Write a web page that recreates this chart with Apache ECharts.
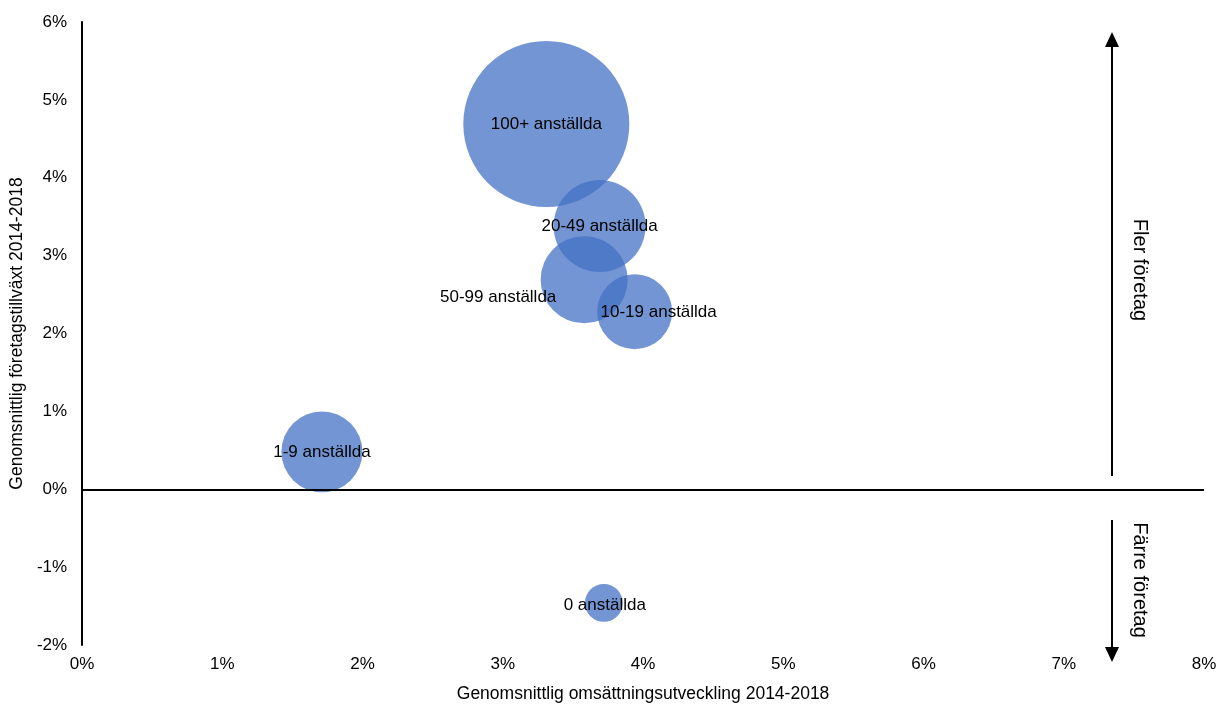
<!DOCTYPE html>
<html>
<head>
<meta charset="utf-8">
<script src="https://cdn.jsdelivr.net/npm/echarts@6/dist/echarts.min.js"></script>
<style>
html,body{margin:0;padding:0;background:#fff;}
#chart{width:1220px;height:708px;}
</style>
</head>
<body>
<div id="chart"></div>
<script>
// Data
const names = ['100+ anställda', '20-49 anställda', '50-99 anställda', '10-19 anställda', '1-9 anställda', '0 anställda'];
const turnoverGrowth = [3.31, 3.69, 3.58, 3.94, 1.71, 3.72];   // x, %
const firmGrowth = [4.69, 3.38, 2.69, 2.28, 0.48, -1.46];      // y, %
const bubbleSize = [100, 30.7, 27.5, 20.4, 23.8, 5.2];         // relative bubble area
const xTicks = { min: 0, max: 8, interval: 1 };
const yTicks = { min: -2, max: 6, interval: 1 };
const xTitle = 'Genomsnittlig omsättningsutveckling 2014-2018';
const yTitle = 'Genomsnittlig företagstillväxt 2014-2018';
const upText = 'Fler företag';
const downText = 'Färre företag';

const labelOffsets = {
  '50-99 anställda': [-86, 18],
  '10-19 anställda': [24, 1],
  '0 anställda': [1, 2]
};

const FONT = "'Liberation Sans', Arial, sans-serif";

const data = names.map((n, i) => ({
  name: n,
  value: [turnoverGrowth[i], firmGrowth[i], bubbleSize[i]],
  label: { offset: labelOffsets[n] || [0, 0] }
}));

const chart = echarts.init(document.getElementById('chart'), null, { renderer: 'canvas' });
chart.setOption({
  animation: false,
  textStyle: { fontFamily: FONT },
  grid: { left: 82, right: 16, top: 22, bottom: 57, containLabel: false },
  xAxis: {
    type: 'value',
    min: xTicks.min, max: xTicks.max, interval: xTicks.interval,
    axisLine: { show: false },
    axisTick: { show: false },
    splitLine: { show: false },
    axisLabel: { formatter: '{value}%', fontSize: 17, color: '#000', margin: 11, fontFamily: FONT },
    name: xTitle,
    nameLocation: 'middle',
    nameGap: 40,
    nameTextStyle: { fontSize: 17.5, color: '#000', fontFamily: FONT }
  },
  yAxis: {
    type: 'value',
    min: yTicks.min, max: yTicks.max, interval: yTicks.interval,
    axisLine: { show: true, onZero: false, lineStyle: { color: '#000', width: 2 } },
    axisTick: { show: false },
    splitLine: { show: false },
    axisLabel: { formatter: '{value}%', fontSize: 17, color: '#000', margin: 15, fontFamily: FONT },
    name: yTitle,
    nameLocation: 'middle',
    nameGap: 56,
    nameTextStyle: { fontSize: 17.5, color: '#000', fontFamily: FONT }
  },
  series: [{
    type: 'scatter',
    data: data,
    symbol: 'circle',
    symbolSize: function (val) { return Math.sqrt(val[2]) * 16.6; },
    itemStyle: { color: 'rgba(68,114,196,0.75)', opacity: 1 },
    label: {
      show: true,
      position: 'inside',
      formatter: '{b}',
      fontSize: 17,
      color: '#000',
      opacity: 1,
      fontFamily: FONT
    },
    emphasis: { disabled: true },
    markLine: {
      silent: true,
      symbol: ['none', 'none'],
      label: { show: false },
      lineStyle: { color: '#000', width: 2, type: 'solid', opacity: 1 },
      data: [{ yAxis: 0 }]
    }
  }],
  graphic: [
    { type: 'line', shape: { x1: 1112, y1: 476, x2: 1112, y2: 46 }, style: { stroke: '#000', lineWidth: 2 } },
    { type: 'polygon', shape: { points: [[1112, 32], [1105, 47], [1119, 47]] }, style: { fill: '#000' } },
    { type: 'line', shape: { x1: 1112, y1: 520, x2: 1112, y2: 648 }, style: { stroke: '#000', lineWidth: 2 } },
    { type: 'polygon', shape: { points: [[1112, 662], [1105, 647], [1119, 647]] }, style: { fill: '#000' } },
    { type: 'text', x: 1140, y: 270, rotation: -Math.PI / 2,
      style: { text: upText, fontSize: 20, fill: '#000', textAlign: 'center', textVerticalAlign: 'middle', fontFamily: FONT } },
    { type: 'text', x: 1140, y: 580, rotation: -Math.PI / 2,
      style: { text: downText, fontSize: 20, fill: '#000', textAlign: 'center', textVerticalAlign: 'middle', fontFamily: FONT } }
  ]
});
</script>
</body>
</html>
